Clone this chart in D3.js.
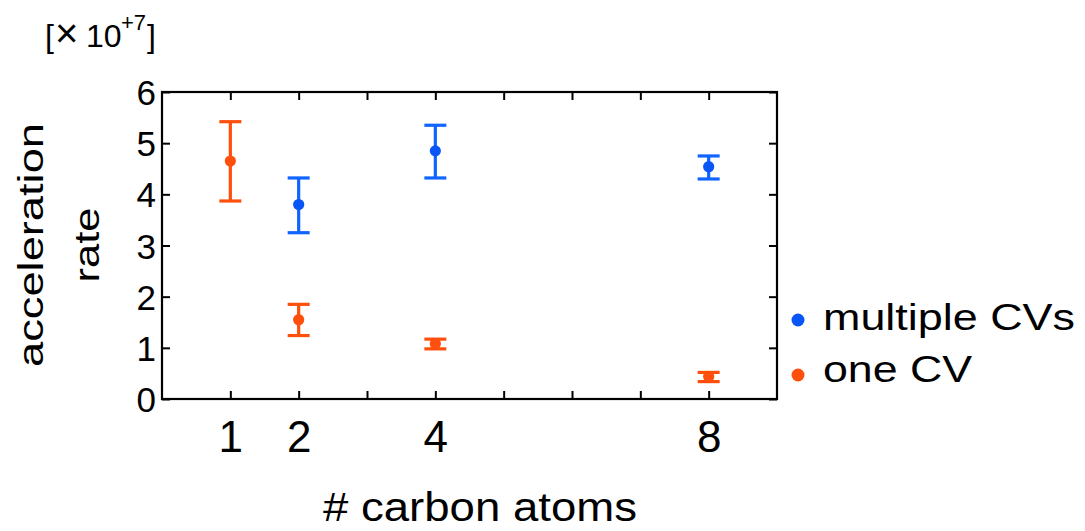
<!DOCTYPE html>
<html>
<head>
<meta charset="utf-8">
<script src="https://cdn.jsdelivr.net/npm/d3@7"></script>
<style>
  body { margin: 0; background: #fff; }
  svg { display: block; font-family: 'Liberation Sans', Arial, sans-serif; }
</style>
</head>
<body>
<div id="chart"></div>
<script>
// values (units of 1e7)
const carbonAtoms = [1, 2, 4, 8];
const oneCvMean = [4.65, 1.55, 1.08, 0.44];
const oneCvLow = [3.87, 1.24, 0.98, 0.34];
const oneCvHigh = [5.42, 1.85, 1.17, 0.52];

const multiCvAtoms = [2, 4, 8];
const multiCvMean = [3.80, 4.85, 4.54];
const multiCvLow = [3.25, 4.32, 4.30];
const multiCvHigh = [4.32, 5.35, 4.75];

const xTicks = [1, 2, 3, 4, 5, 6, 7, 8];
const xTickLabels = [1, 2, 4, 8];
const yTicks = [0, 1, 2, 3, 4, 5, 6];

const seriesNames = ['multiple CVs', 'one CV'];

const width = 1085, height = 531;
const margin = { top: 92, right: 308, bottom: 132, left: 162 };

const orange = '#ff4f0c', blue = '#1064ff', blueDot = '#0a55f5';

const x = d3.scaleLinear().domain([0, 9]).range([margin.left, width - margin.right]);
const y = d3.scaleLinear().domain([0, 6]).range([height - margin.bottom, margin.top]);

const svg = d3.select('#chart').append('svg')
  .attr('width', width).attr('height', height)
  .attr('viewBox', [0, 0, width, height]);

// frame
svg.append('rect')
  .attr('x', x(0)).attr('y', y(6))
  .attr('width', x(9) - x(0)).attr('height', y(0) - y(6))
  .attr('fill', 'none').attr('stroke', '#000').attr('stroke-width', 2.2);

const styleAxis = (g) => {
  g.select('.domain').remove();
  g.selectAll('.tick line').attr('stroke', '#000').attr('stroke-width', 2);
  g.selectAll('text').attr('fill', '#000');
};

// bottom axis
svg.append('g')
  .attr('transform', `translate(0,${y(0)})`)
  .call(d3.axisBottom(x).tickValues(xTicks).tickSizeInner(-8).tickSizeOuter(0)
    .tickFormat(d => xTickLabels.includes(d) ? d : ''))
  .call(styleAxis)
  .call(g => g.selectAll('text').attr('y', 53).attr('dy', 0).attr('font-size', 44));

svg.append('g')
  .attr('transform', `translate(0,${y(6)})`)
  .call(d3.axisTop(x).tickValues(xTicks).tickSizeInner(-8).tickSizeOuter(0).tickFormat(''))
  .call(styleAxis);

svg.append('g')
  .attr('transform', `translate(${x(0)},0)`)
  .call(d3.axisLeft(y).tickValues(yTicks).tickSizeInner(-8).tickSizeOuter(0).tickPadding(6)
    .tickFormat(d3.format('d')))
  .call(styleAxis)
  .call(g => g.selectAll('text').attr('font-size', 35).attr('dy', '0.36em'));

svg.append('g')
  .attr('transform', `translate(${x(9)},0)`)
  .call(d3.axisRight(y).tickValues(yTicks).tickSizeInner(-8).tickSizeOuter(0).tickFormat(''))
  .call(styleAxis);

// error bars + points
function drawSeries(xs, mean, lo, hi, lineColor, dotColor) {
  const rows = xs.map((d, i) => ({ x: d, m: mean[i], lo: lo[i], hi: hi[i] }));
  const g = svg.append('g');
  const cap = 11;
  g.selectAll('.stem').data(rows).join('line')
    .attr('x1', d => x(d.x)).attr('x2', d => x(d.x))
    .attr('y1', d => y(d.lo)).attr('y2', d => y(d.hi))
    .attr('stroke', lineColor).attr('stroke-width', 3.2);
  g.selectAll('.capHi').data(rows).join('line')
    .attr('x1', d => x(d.x) - cap).attr('x2', d => x(d.x) + cap)
    .attr('y1', d => y(d.hi)).attr('y2', d => y(d.hi))
    .attr('stroke', lineColor).attr('stroke-width', 3.2);
  g.selectAll('.capLo').data(rows).join('line')
    .attr('x1', d => x(d.x) - cap).attr('x2', d => x(d.x) + cap)
    .attr('y1', d => y(d.lo)).attr('y2', d => y(d.lo))
    .attr('stroke', lineColor).attr('stroke-width', 3.2);
  g.selectAll('circle').data(rows).join('circle')
    .attr('cx', d => x(d.x)).attr('cy', d => y(d.m)).attr('r', 5.6)
    .attr('fill', dotColor);
}

drawSeries(carbonAtoms, oneCvMean, oneCvLow, oneCvHigh, orange, orange);
drawSeries(multiCvAtoms, multiCvMean, multiCvLow, multiCvHigh, blue, blueDot);

// axis labels (glyphs stretched a little, like the original)
svg.append('text')
  .attr('x', 480).attr('y', 521)
  .attr('text-anchor', 'middle').attr('font-size', 40)
  .attr('textLength', 314).attr('lengthAdjust', 'spacingAndGlyphs')
  .text('# carbon atoms');

svg.append('text')
  .attr('transform', 'translate(43,245) rotate(-90)')
  .attr('text-anchor', 'middle').attr('font-size', 35)
  .attr('textLength', 244).attr('lengthAdjust', 'spacingAndGlyphs')
  .text('acceleration');

svg.append('text')
  .attr('transform', 'translate(99,245) rotate(-90)')
  .attr('text-anchor', 'middle').attr('font-size', 35)
  .attr('textLength', 75).attr('lengthAdjust', 'spacingAndGlyphs')
  .text('rate');

// exponent note
const note = svg.append('text').attr('y', 47).attr('font-size', 32);
note.append('tspan').attr('x', 45).text('[');
note.append('tspan').attr('x', 55).attr('font-size', 40).text('×');
note.append('tspan').attr('x', 86).text('10');
note.append('tspan').attr('x', 121).attr('y', 30).attr('font-size', 22).text('+7');
note.append('tspan').attr('x', 147).attr('y', 47).text(']');

// legend
const legend = svg.append('g');
[blueDot, orange].forEach((c, i) => {
  legend.append('circle')
    .attr('cx', 798).attr('cy', 320 + i * 55).attr('r', 6.5).attr('fill', c);
});
legend.append('text').attr('x', 823).attr('y', 330).attr('font-size', 36)
  .attr('textLength', 252).attr('lengthAdjust', 'spacingAndGlyphs').text(seriesNames[0]);
legend.append('text').attr('x', 823).attr('y', 382).attr('font-size', 36)
  .attr('textLength', 149).attr('lengthAdjust', 'spacingAndGlyphs').text(seriesNames[1]);
</script>
</body>
</html>
